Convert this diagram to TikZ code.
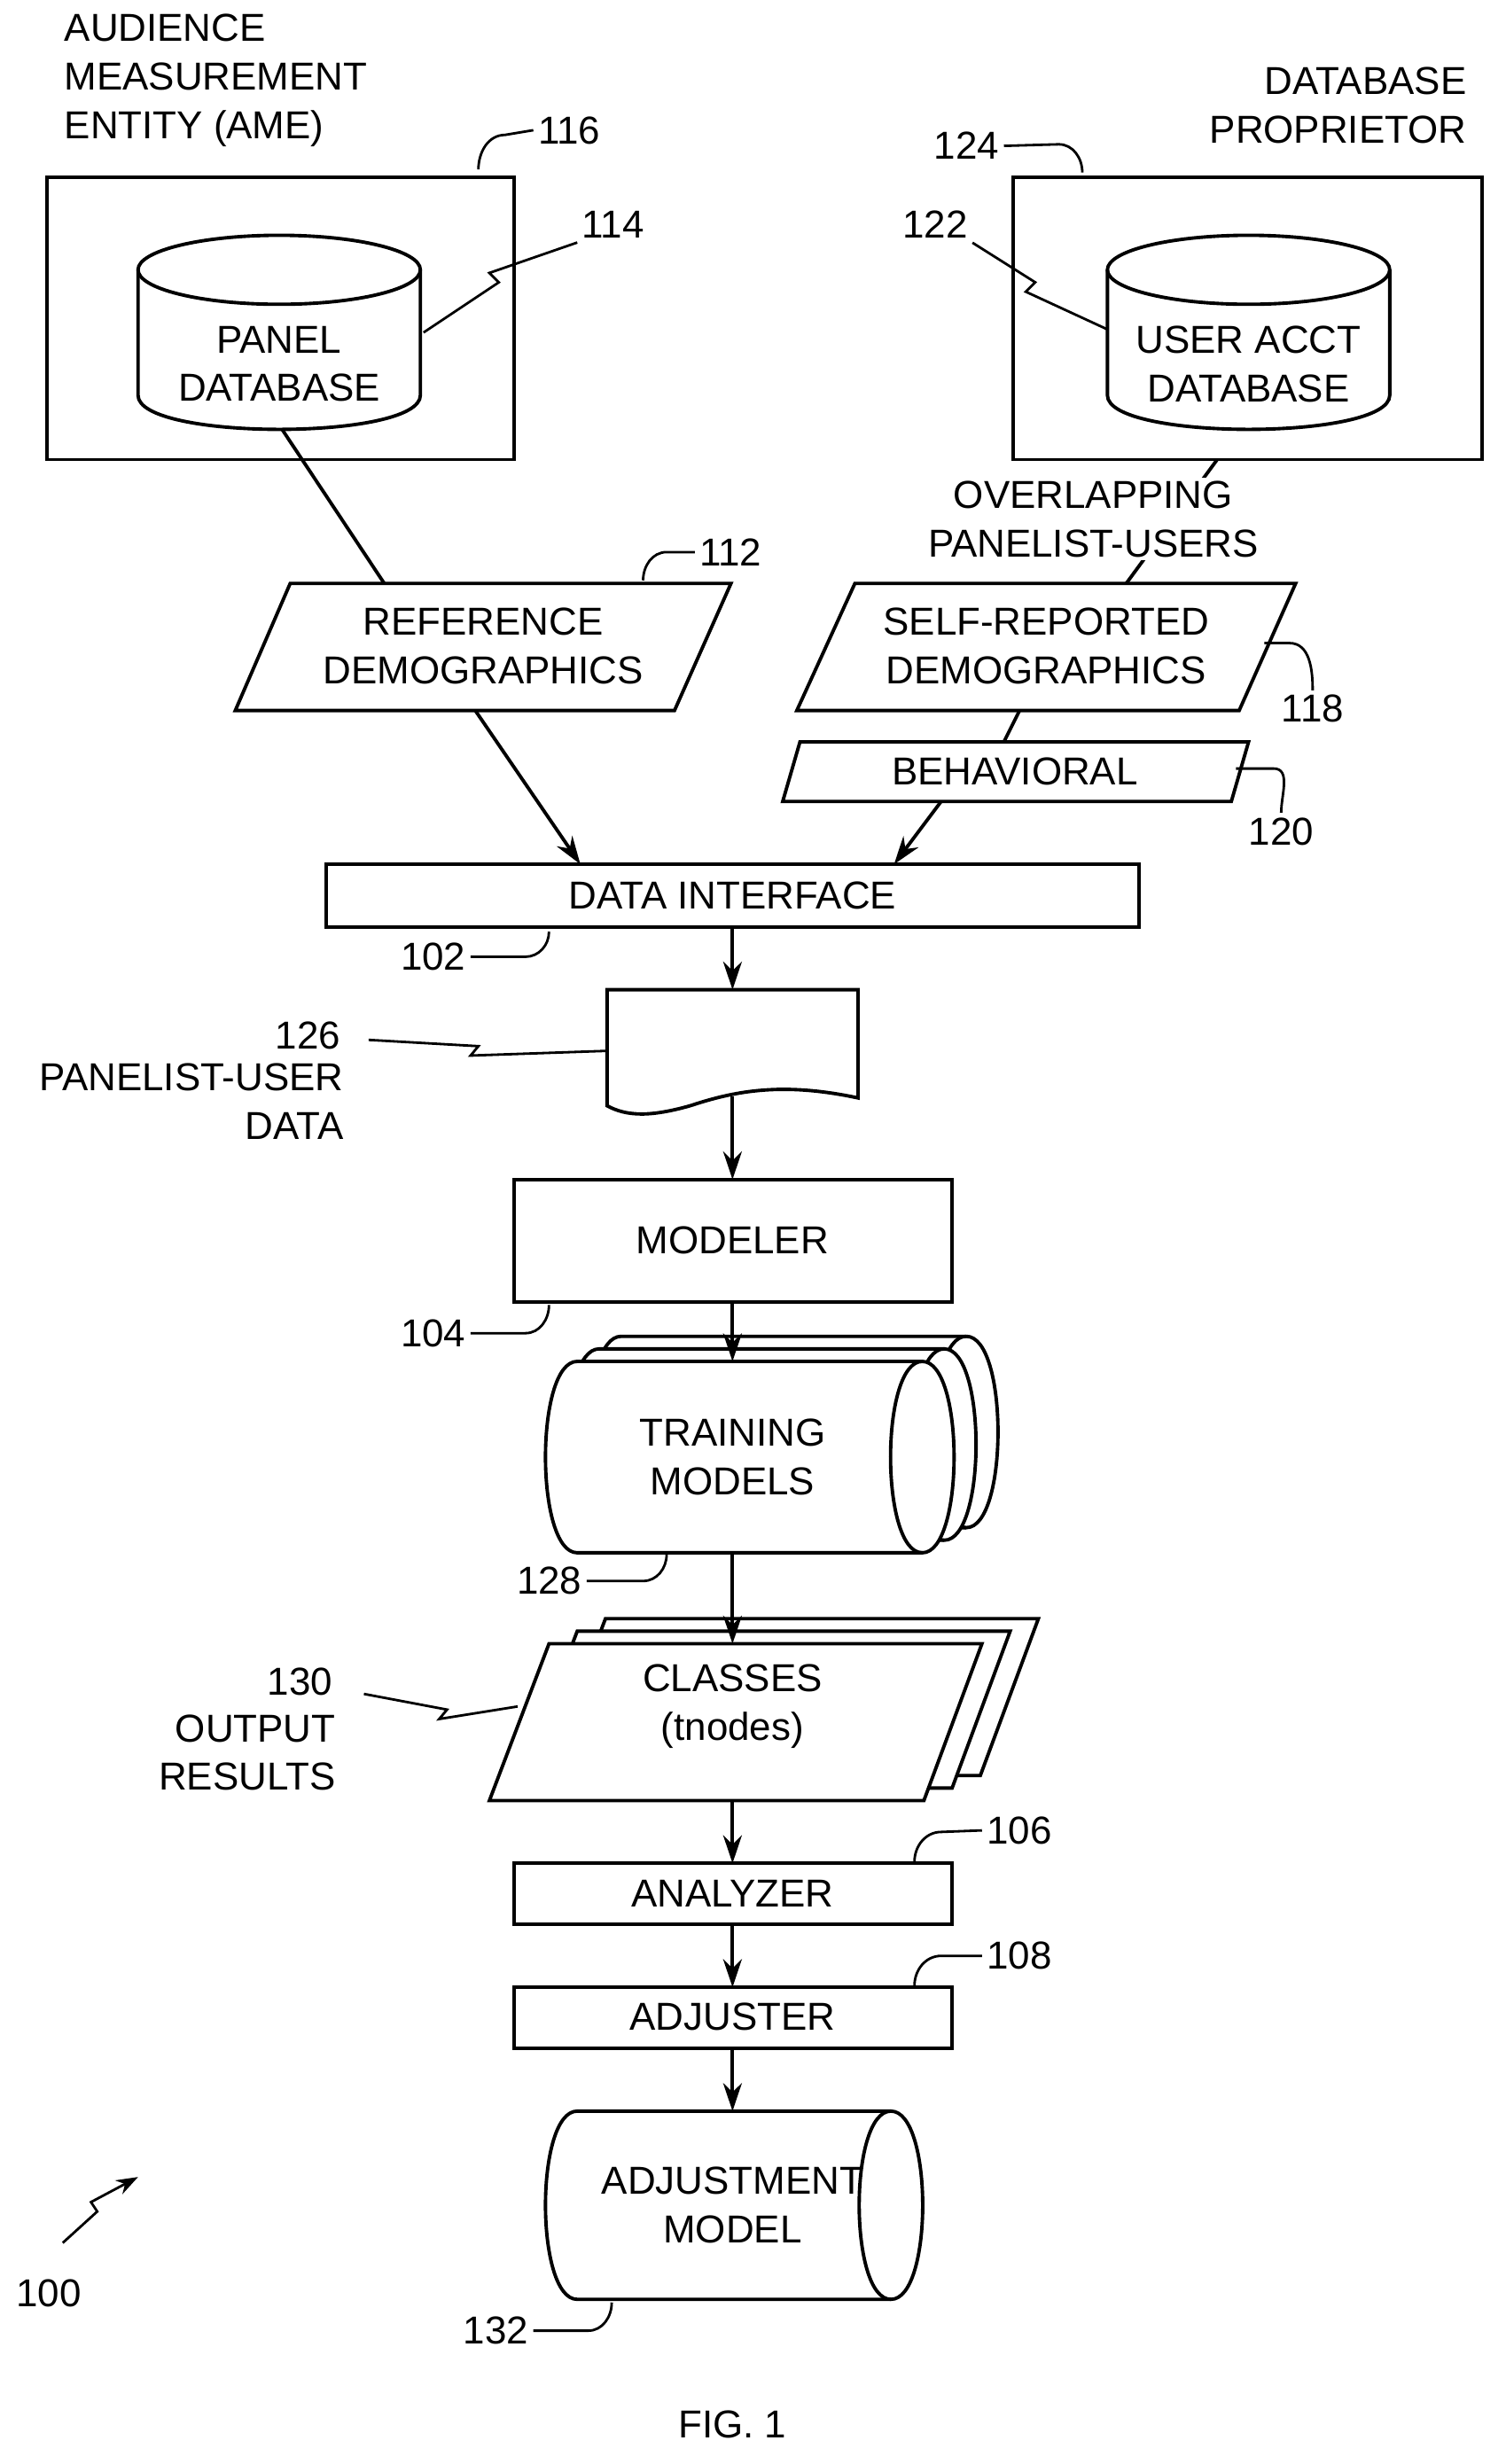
\documentclass[tikz,border=0pt]{standalone}
\usepackage{fontspec}
\setmainfont{Liberation Sans}
\usetikzlibrary{arrows.meta}
\begin{document}
\begin{tikzpicture}[x=0.0177cm,y=-0.0177cm,line width=1.1pt,
    txt/.style={font=\fontsize{12.5}{15.6}\selectfont,align=center,inner sep=0pt},
    lbl/.style={font=\fontsize{12.5}{15}\selectfont,inner sep=1pt},
    arr/.style={-{Stealth[length=9pt,width=6pt]}},
    lead/.style={line width=0.8pt}]
\useasboundingbox (0,0) rectangle (960,1571);
% AME side
\node[txt,align=left,anchor=north west] (ame) at (40,8) {AUDIENCE\\MEASUREMENT\\ENTITY (AME)};
\draw (30,113) rectangle (328,293);
\draw (88,172) -- (88,252) .. controls (88,281) and (268,281) .. (268,252) -- (268,172);
\draw (178,172) ellipse[x radius=90,y radius=22];
\node[txt] (panel) at (178,232) {PANEL\\DATABASE};
\coordinate (panelB) at (180,274);
% proprietor side
\node[txt,align=right,anchor=north east] (dbp) at (936,42) {DATABASE\\PROPRIETOR};
\draw (646,113) rectangle (945,293);
\draw (706,172) -- (706,252) .. controls (706,281) and (886,281) .. (886,252) -- (886,172);
\draw (796,172) ellipse[x radius=90,y radius=22];
\node[txt] (uacct) at (796,232) {USER ACCT\\DATABASE};
\coordinate (uacctB) at (776,293);
% demographics
\draw (185,372) -- (466,372) -- (430,453) -- (150,453) -- cycle;
\node[txt] (refdem) at (308,412) {REFERENCE\\DEMOGRAPHICS};
\coordinate (refT) at (245,372); \coordinate (refB) at (303,453);
\draw (545,372) -- (826,372) -- (790,453) -- (508,453) -- cycle;
\node[txt] (selfdem) at (667,412) {SELF-REPORTED\\DEMOGRAPHICS};
\coordinate (selfT) at (718,372); \coordinate (selfB) at (650,453);
\draw (510,473) -- (796,473) -- (785,511) -- (499,511) -- cycle;
\node[txt] (behav) at (647,492) {BEHAVIORAL};
\coordinate (behT) at (640,473); \coordinate (behB) at (600,511);
\draw (panelB) -- (refT);
\draw (uacctB) -- (selfT);
\node[txt,fill=white,inner sep=1pt] (overlap) at (697,331) {OVERLAPPING\\PANELIST-USERS};
\draw (selfB) -- (behT);
% data interface
\draw (208,551) rectangle (726,591);
\node[txt] (dint) at (467,571) {DATA INTERFACE};
\coordinate (dintT1) at (370,551); \coordinate (dintT2) at (570,551);
\coordinate (dintB) at (467,591);
\draw[arr] (refB) -- (dintT1);
\draw[arr] (behB) -- (dintT2);
% document
\draw (387,631) -- (547,631) -- (547,700) .. controls (500,690) and (470,695) .. (440,705) .. controls (415,712) and (400,712) .. (387,705) -- cycle;
\coordinate (docT) at (467,631); \coordinate (docB) at (467,699);
\node[txt,align=right,anchor=north east] (pud) at (220,677) {PANELIST-USER\\DATA};
\draw[arr] (dintB) -- (docT);
% modeler
\draw (328,752) rectangle (607,830);
\node[txt] (modeler) at (467,791) {MODELER};
\draw[arr] (docB) -- (467,752);
% training models
\foreach \dx/\dy in {28/-16,14/-8,0/0}{
  \begin{scope}[shift={(\dx,\dy)}]
  \draw[fill=white] (368,868) -- (588,868) .. controls (615,868) and (615,990) .. (588,990) -- (368,990) .. controls (341,990) and (341,868) .. (368,868);
  \draw (588,868) .. controls (561,868) and (561,990) .. (588,990);
  \end{scope}}
\node[txt] (train) at (467,929) {TRAINING\\MODELS};
\draw[arr] (467,830) -- (467,868);
% classes
\foreach \dx/\dy in {36/-16,18/-8,0/0}{
  \draw[fill=white,shift={(\dx,\dy)}] (350,1048) -- (626,1048) -- (589,1148) -- (312,1148) -- cycle;}
\node[txt] (classes) at (467,1088) {CLASSES\\(tnodes)};
\node[txt,align=right,anchor=north east] (outres) at (215,1092) {OUTPUT\\RESULTS};
\draw[arr] (467,990) -- (467,1048);
% analyzer, adjuster
\draw (328,1188) rectangle (607,1227);
\node[txt] (analyzer) at (467,1207) {ANALYZER};
\draw (328,1267) rectangle (607,1306);
\node[txt] (adjuster) at (467,1286) {ADJUSTER};
\draw[arr] (467,1148) -- (467,1188);
\draw[arr] (467,1227) -- (467,1267);
% adjustment model
\draw (368,1346) -- (568,1346) .. controls (595,1346) and (595,1466) .. (568,1466) -- (368,1466) .. controls (341,1466) and (341,1346) .. (368,1346);
\draw (568,1346) .. controls (541,1346) and (541,1466) .. (568,1466);
\node[txt] (adjm) at (467,1406) {ADJUSTMENT\\MODEL};
\draw[arr] (467,1306) -- (467,1346);
% reference numerals
\node[lbl,anchor=west] (n116) at (340,83) {116};
\draw[lead] (305,108) to[out=90,in=180] (322,86) -- (n116.west);
\node[lbl,anchor=west] (n114) at (368,143) {114};
\draw[lead] (270,212) -- (318,180) -- (312,174) -- (n114.south west);
\node[lbl,anchor=east] (n124) at (640,93) {124};
\draw[lead] (n124.east) -- (675,92) to[out=0,in=90] (690,110);
\node[lbl,anchor=east] (n122) at (620,143) {122};
\draw[lead] (n122.south east) -- (660,180) -- (654,186) -- (706,210);
\node[lbl,anchor=west] (n112) at (443,352) {112};
\draw[lead] (410,370) to[out=90,in=180] (425,352) -- (n112.west);
\node[lbl,anchor=west] (n118) at (814,452) {118};
\draw[lead] (806,410) -- (822,410) to[out=0,in=90] (n118.north);
\node[lbl,anchor=west] (n120) at (793,530) {120};
\draw[lead] (788,490) -- (812,490) to[out=0,in=90] (n120.north);
\node[lbl,anchor=east] (n102) at (300,610) {102};
\draw[lead] (n102.east) -- (335,610) to[out=0,in=-90] (350,594);
\node[lbl,anchor=east] (n126) at (220,660) {126};
\draw[lead] (235,663) -- (305,667) -- (300,673) -- (387,670);
\node[lbl,anchor=east] (n104) at (300,850) {104};
\draw[lead] (n104.east) -- (335,850) to[out=0,in=-90] (350,832);
\node[lbl,anchor=east] (n128) at (374,1008) {128};
\draw[lead] (n128.east) -- (410,1008) to[out=0,in=-90] (425,991);
\node[lbl,anchor=east] (n130) at (215,1072) {130};
\draw[lead] (232,1080) -- (285,1090) -- (280,1096) -- (330,1088);
\node[lbl,anchor=west] (n106) at (626,1167) {106};
\draw[lead] (583,1187) to[out=90,in=180] (600,1168) -- (n106.west);
\node[lbl,anchor=west] (n108) at (626,1247) {108};
\draw[lead] (583,1266) to[out=90,in=180] (600,1247) -- (n108.west);
\node[lbl,anchor=east] (n132) at (340,1486) {132};
\draw[lead] (n132.east) -- (375,1486) to[out=0,in=-90] (390,1468);
\node[lbl] (n100) at (31,1462) {100};
\draw[lead,-{Stealth[length=7pt,width=5pt]}] (40,1430) -- (62,1410) -- (58,1404) -- (88,1388);
\node[txt] (fig) at (467,1546) {FIG. 1};
\end{tikzpicture}
\end{document}
